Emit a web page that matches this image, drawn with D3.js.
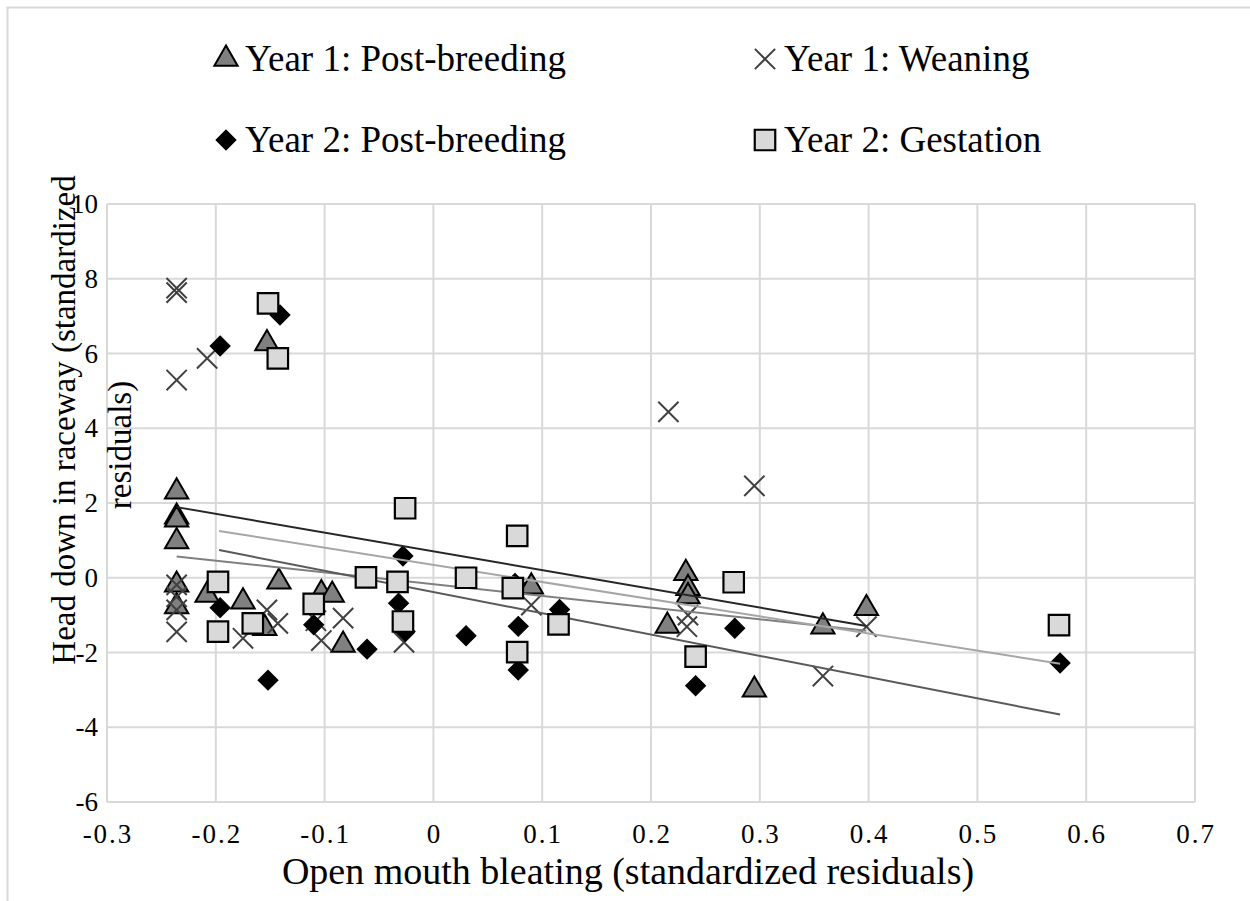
<!doctype html>
<html>
<head>
<meta charset="utf-8">
<script src="https://cdnjs.cloudflare.com/ajax/libs/d3/7.8.5/d3.min.js"></script>
<style>
  body { margin: 0; background: #fff; }
  text { font-family: "Liberation Serif", "Times New Roman", serif; fill: #000; }
</style>
</head>
<body>
<svg id="chart" width="1250" height="901"></svg>
<script>
// series: [x, y] pairs
const y1PostBreeding = [
  [-0.236, 2.30], [-0.236, 1.63], [-0.236, 1.55], [-0.236, 0.97], [-0.236, -0.19], [-0.236, -0.77],
  [-0.208, -0.46], [-0.175, -0.64], [-0.142, -0.11], [-0.155, -1.35], [-0.153, 6.27],
  [-0.103, -0.42], [-0.093, -0.46], [-0.083, -1.80], [0.090, -0.24],
  [0.232, 0.12], [0.234, -0.28], [0.234, -0.50], [0.215, -1.29], [0.295, -3.00],
  [0.358, -1.31], [0.398, -0.82]
];
const y1Weaning = [
  [-0.236, 7.75], [-0.236, 7.63], [-0.208, 5.87], [-0.236, 5.29],
  [-0.236, -0.19], [-0.236, -0.51], [-0.236, -0.86], [-0.236, -1.45],
  [-0.175, -1.62], [-0.153, -0.86], [-0.143, -1.22], [-0.108, -1.15], [-0.103, -1.68],
  [-0.083, -1.08], [-0.027, -1.73], [0.090, -0.73], [0.216, 4.44], [0.295, 2.46],
  [0.234, -1.00], [0.233, -1.31], [0.358, -2.63], [0.398, -1.31]
];
const y2PostBreeding = [
  [-0.141, 7.03], [-0.196, 6.20], [-0.196, -0.80], [-0.152, -2.74], [-0.110, -1.26],
  [-0.061, -1.91], [-0.032, -0.68], [-0.028, 0.58], [-0.026, -1.44], [0.030, -1.55],
  [0.075, -0.15], [0.078, -1.30], [0.078, -2.47], [0.116, -0.85], [0.241, -2.89],
  [0.277, -1.35], [0.576, -2.28]
];
const y2Gestation = [
  [-0.152, 7.34], [-0.143, 5.87], [-0.198, -0.11], [-0.198, -1.44], [-0.166, -1.22],
  [-0.110, -0.70], [-0.062, 0.01], [-0.033, -0.11], [-0.026, 1.86], [-0.028, -1.17],
  [0.030, 0.00], [0.073, -0.28], [0.077, 1.12], [0.077, -1.99], [0.115, -1.25],
  [0.241, -2.11], [0.276, -0.12], [0.575, -1.27]
];

// linear trendlines: [x start, y start, x end, y end]
const trendY1PB = [-0.236, 1.89, 0.398, -1.29];
const trendY1W = [-0.236, 0.57, 0.398, -1.42];
const trendY2PB = [-0.197, 0.74, 0.576, -3.66];
const trendY2G = [-0.197, 1.25, 0.576, -2.30];

const xTicks = [-0.3, -0.2, -0.1, 0, 0.1, 0.2, 0.3, 0.4, 0.5, 0.6, 0.7];
const yTicks = [-6, -4, -2, 0, 2, 4, 6, 8, 10];
const legendNames = ["Year 1: Post-breeding", "Year 1: Weaning", "Year 2: Post-breeding", "Year 2: Gestation"];

const serif = '"Liberation Serif", "Times New Roman", serif';
const svg = d3.select("#chart");

// chart area border
svg.append("rect")
  .attr("x", 7.5).attr("y", 7.5).attr("width", 1260).attr("height", 910)
  .attr("fill", "#fff").attr("stroke", "#d9d9d9").attr("stroke-width", 2);

const x = d3.scaleLinear().domain([-0.3, 0.7]).range([107, 1195]);
const y = d3.scaleLinear().domain([-6, 10]).range([802, 204]);

// gridlines
svg.append("g").selectAll("line").data(xTicks).enter().append("line")
  .attr("x1", d => x(d)).attr("x2", d => x(d))
  .attr("y1", y(10)).attr("y2", y(-6))
  .attr("stroke", "#d9d9d9").attr("stroke-width", 2);
svg.append("g").selectAll("line").data(yTicks).enter().append("line")
  .attr("x1", x(-0.3)).attr("x2", x(0.7))
  .attr("y1", d => y(d)).attr("y2", d => y(d))
  .attr("stroke", "#d9d9d9").attr("stroke-width", 2);

// tick labels
svg.append("g").selectAll("text").data(xTicks).enter().append("text")
  .attr("x", d => x(d) + 1).attr("y", 843)
  .attr("text-anchor", "middle")
  .attr("font-family", serif)
  .style("font-size", "27px").style("letter-spacing", "2px")
  .text(d => String(d));
svg.append("g").selectAll("text").data(yTicks).enter().append("text")
  .attr("x", 98).attr("y", d => y(d) + 9)
  .attr("text-anchor", "end")
  .attr("font-family", serif)
  .style("font-size", "27px")
  .text(d => String(d));

// axis titles
svg.append("text")
  .attr("x", 628).attr("y", 884)
  .attr("text-anchor", "middle")
  .attr("font-family", serif)
  .style("font-size", "38px")
  .text("Open mouth bleating (standardized residuals)");
const yt = svg.append("text")
  .attr("transform", "rotate(-90)")
  .attr("font-family", serif)
  .style("font-size", "33px")
  .attr("text-anchor", "middle");
yt.append("tspan").attr("x", -420).attr("y", 75).text("Head down in raceway (standardized");
yt.append("tspan").attr("x", -445).attr("y", 131).text("residuals)");

// marker shapes
const sym = {
  tri: d3.symbol().type(d3.symbolTriangle).size(235),
  dia: d3.symbol().type(d3.symbolSquare).size(200),
  sq: d3.symbol().type(d3.symbolSquare).size(420),
  cross: d3.symbol().type(d3.symbolTimes).size(270)
};

function markerTransform(kind, px, py) {
  return kind === "dia" ? `translate(${px},${py}) rotate(45)` : `translate(${px},${py})`;
}

function styleMarker(sel, kind) {
  if (kind === "tri") sel.attr("fill", "#808080").attr("stroke", "#000").attr("stroke-width", 2);
  if (kind === "dia") sel.attr("fill", "#000").attr("stroke", "#000").attr("stroke-width", 1);
  if (kind === "sq") sel.attr("fill", "#d9d9d9").attr("stroke", "#000").attr("stroke-width", 2.2);
  if (kind === "cross") sel.attr("fill", "none").attr("stroke", "#404040").attr("stroke-width", 2);
}

function drawPoints(data, kind) {
  const sel = svg.append("g").selectAll("path").data(data).enter().append("path")
    .attr("transform", d => markerTransform(kind, x(d[0]), y(d[1])))
    .attr("d", sym[kind]());
  styleMarker(sel, kind);
}

function drawTrend(t, color) {
  svg.append("line")
    .attr("x1", x(t[0])).attr("y1", y(t[1]))
    .attr("x2", x(t[2])).attr("y2", y(t[3]))
    .attr("stroke", color).attr("stroke-width", 2);
}

drawPoints(y1PostBreeding, "tri");
drawPoints(y1Weaning, "cross");
drawPoints(y2PostBreeding, "dia");
drawTrend(trendY1PB, "#262626");
drawTrend(trendY1W, "#808080");
drawTrend(trendY2PB, "#595959");
drawTrend(trendY2G, "#a6a6a6");
drawPoints(y2Gestation, "sq");

// legend
const legendPos = [[226, 59], [765, 59], [226, 140], [765, 140]];
const legendKinds = ["tri", "cross", "dia", "sq"];
legendNames.forEach((name, i) => {
  const p = legendPos[i];
  const m = svg.append("path")
    .attr("transform", markerTransform(legendKinds[i], p[0], p[1]))
    .attr("d", sym[legendKinds[i]]());
  styleMarker(m, legendKinds[i]);
  svg.append("text")
    .attr("x", p[0] + 19).attr("y", p[1] + 12)
    .attr("font-family", serif)
    .style("font-size", "37px")
    .text(name);
});
</script>
</body>
</html>
